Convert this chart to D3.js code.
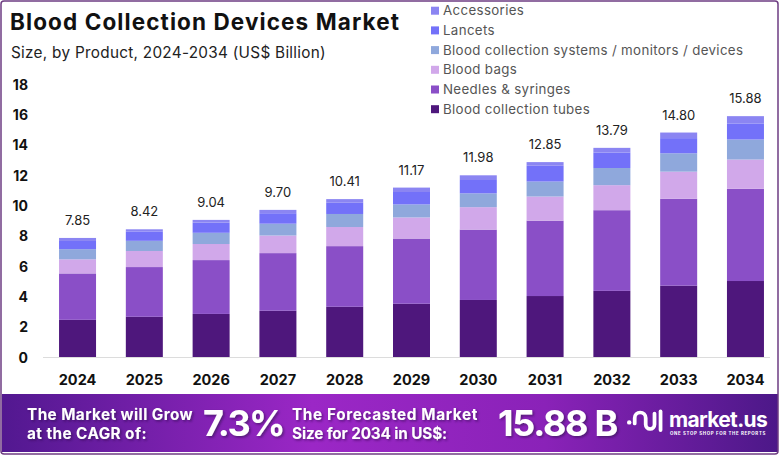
<!DOCTYPE html>
<html>
<head>
   <meta charset="UTF-8">
   <title>Blood Collection Devices Market</title>
   <style>
       body { margin: 0; overflow: hidden; background: white; }
       svg { display: block; background: white; }
       text { font-family: Inter, "Open Sans", sans-serif; }
       .tick text { font-weight: 700; fill: #111; }
   </style>
   <script src="https://cdnjs.cloudflare.com/ajax/libs/d3/7.8.5/d3.min.js"></script>
</head>
<body>
   <div id="chart"></div>
   <script>
       const years = ["2024", "2025", "2026", "2027", "2028", "2029", "2030", "2031", "2032", "2033", "2034"];
       const totals = [7.85, 8.42, 9.04, 9.70, 10.41, 11.17, 11.98, 12.85, 13.79, 14.80, 15.88];

       // segments, bottom to top
       const tubes       = [2.45, 2.65, 2.84, 3.05, 3.31, 3.51, 3.76, 4.02, 4.36, 4.70, 5.01];
       const needles     = [3.06, 3.28, 3.55, 3.80, 4.00, 4.30, 4.64, 4.97, 5.32, 5.73, 6.08];
       const bags        = [0.93, 1.06, 1.06, 1.16, 1.26, 1.39, 1.48, 1.59, 1.65, 1.79, 1.93];
       const systems     = [0.67, 0.67, 0.74, 0.78, 0.86, 0.86, 0.91, 0.99, 1.13, 1.21, 1.32];
       const lancets     = [0.54, 0.62, 0.67, 0.69, 0.74, 0.82, 0.88, 1.04, 1.02, 1.00, 1.06];
       const accessories = [0.20, 0.14, 0.18, 0.22, 0.24, 0.29, 0.31, 0.24, 0.31, 0.37, 0.48];

       const seriesNames = ["Blood collection tubes", "Needles & syringes", "Blood bags",
                            "Blood collection systems / monitors / devices", "Lancets", "Accessories"];
       const seriesValues = [tubes, needles, bags, systems, lancets, accessories];
       const colors = ["#4e177c", "#8a4fc7", "#d1a8ea", "#8fa8dc", "#7371f9", "#8b85f2"];
       const yTicks = [0, 2, 4, 6, 8, 10, 12, 14, 16, 18];

       const width = 782;
       const height = 456;

       // stretch a text to a given width with letter spacing
       function fit(sel, w) {
           const node = sel.node();
           const n = node.textContent.length;
           const cur = node.getComputedTextLength();
           sel.style("letter-spacing", ((w - cur) / n) + "px");
           return sel;
       }

       const svg = d3.select("#chart")
           .append("svg")
           .attr("width", width)
           .attr("height", height);

       const defs = svg.append("defs");
       const grad = defs.append("linearGradient").attr("id", "banner");
       grad.append("stop").attr("offset", "0%").attr("stop-color", "#521890");
       grad.append("stop").attr("offset", "40%").attr("stop-color", "#9b27c6");
       grad.append("stop").attr("offset", "70%").attr("stop-color", "#8a22b8");
       grad.append("stop").attr("offset", "100%").attr("stop-color", "#4c1888");
       const shadow = defs.append("filter").attr("id", "shadow")
           .attr("x", "-10%").attr("y", "-10%").attr("width", "130%").attr("height", "140%");
       shadow.append("feDropShadow").attr("dx", 1.5).attr("dy", 1.5)
           .attr("stdDeviation", 1).attr("flood-color", "#2a0a4a").attr("flood-opacity", 0.6);

       // title
       fit(svg.append("text")
           .attr("x", 10).attr("y", 30)
           .style("font-size", "22.5px").style("font-weight", 700).style("fill", "#111")
           .text("Blood Collection Devices Market"), 390);
       fit(svg.append("text")
           .attr("x", 11).attr("y", 58)
           .style("font-size", "15.3px").style("fill", "#222")
           .text("Size, by Product, 2024-2034 (US$ Billion)"), 315);

       const x = d3.scaleBand()
           .domain(years)
           .range([39, 784])
           .paddingInner(0.446)
           .paddingOuter(0.3);

       const y = d3.scaleLinear()
           .domain([0, 18])
           .range([357, 84]);

       // stacked data
       const rows = years.map((yr, i) => {
           const r = {year: yr};
           seriesNames.forEach((s, k) => { r[s] = seriesValues[k][i]; });
           return r;
       });
       const stacked = d3.stack().keys(seriesNames)(rows);

       svg.append("line")
           .attr("x1", 43).attr("x2", 770)
           .attr("y1", y(0) + 0.5).attr("y2", y(0) + 0.5)
           .style("stroke", "#dcdcdc").style("stroke-width", 1.2);

       svg.append("g")
           .selectAll("g")
           .data(stacked)
           .enter().append("g")
           .style("fill", (d, i) => colors[i])
           .selectAll("rect")
           .data(d => d)
           .enter().append("rect")
           .attr("x", d => x(d.data.year))
           .attr("width", x.bandwidth())
           .attr("y", d => y(d[1]))
           .attr("height", d => y(d[0]) - y(d[1]));

       // totals
       svg.append("g")
           .selectAll("text")
           .data(totals)
           .enter().append("text")
           .attr("x", (d, i) => x(years[i]) + x.bandwidth() / 2)
           .attr("y", d => y(d) - 13)
           .attr("text-anchor", "middle")
           .style("font-size", "13px").style("fill", "#222")
           .text(d => d.toFixed(2));

       // y axis
       const yAxis = svg.append("g")
           .attr("transform", "translate(28,0)")
           .call(d3.axisLeft(y).tickValues(yTicks).tickSize(0).tickPadding(0));
       yAxis.select(".domain").remove();
       yAxis.selectAll("text").style("font-size", "14px").attr("dy", "0.36em");

       // x axis
       const xAxis = svg.append("g")
           .attr("transform", "translate(0,372)")
           .call(d3.axisBottom(x).tickSize(0).tickPadding(0));
       xAxis.select(".domain").remove();
       xAxis.selectAll("text").style("font-size", "14.5px").attr("dy", "0.9em");

       // legend
       const legendOrder = [5, 4, 3, 2, 1, 0];
       const legend = svg.append("g")
           .selectAll("g")
           .data(legendOrder)
           .enter().append("g")
           .attr("transform", (d, i) => `translate(431,${10.7 + i * 19.7})`);
       legend.append("rect")
           .attr("x", 0).attr("y", -4).attr("width", 8).attr("height", 8)
           .style("fill", d => colors[d]);
       legend.append("text")
           .attr("x", 12).attr("dy", "0.35em")
           .style("font-size", "13.3px").style("fill", "#555")
           .style("letter-spacing", "0.35px")
           .text(d => seriesNames[d]);

       // banner
       svg.append("rect")
           .attr("x", 2).attr("y", 394).attr("width", 776).attr("height", 58)
           .style("fill", "url(#banner)");

       const bt = svg.append("g").style("fill", "white").style("font-weight", 700);
       fit(bt.append("text").attr("x", 27).attr("y", 420).style("font-size", "15.3px")
           .attr("filter", "url(#shadow)").text("The Market will Grow"), 166);
       fit(bt.append("text").attr("x", 27).attr("y", 439).style("font-size", "15.3px")
           .attr("filter", "url(#shadow)").text("at the CAGR of:"), 120);
       fit(bt.append("text").attr("x", 203).attr("y", 436).style("font-size", "36px")
           .attr("filter", "url(#shadow)").text("7.3%"), 81);
       fit(bt.append("text").attr("x", 292).attr("y", 420).style("font-size", "15.3px")
           .attr("filter", "url(#shadow)").text("The Forecasted Market"), 186);
       fit(bt.append("text").attr("x", 292).attr("y", 439).style("font-size", "15.3px")
           .attr("filter", "url(#shadow)").text("Size for 2034 in US$:"), 155);
       fit(bt.append("text").attr("x", 498).attr("y", 436).style("font-size", "36px")
           .attr("filter", "url(#shadow)").text("15.88 B"), 119);

       // logo
       const logo = svg.append("g").attr("transform", "translate(627,407) scale(1.1)")
           .style("fill", "none").style("stroke", "white").style("stroke-width", 3.4)
           .style("stroke-linecap", "round");
       logo.append("circle").attr("cx", 2).attr("cy", 14).attr("r", 2)
           .style("fill", "white").style("stroke", "none");
       logo.append("path").attr("d", "M7,15 L7,10 A5,5 0 0 1 17,10 L17,16 A4,4 0 0 0 25,16 L25,6");
       logo.append("path").attr("d", "M30.5,4 L30.5,21");
       fit(svg.append("text").attr("x", 669).attr("y", 427)
           .style("font-size", "21px").style("font-weight", 700).style("fill", "white")
           .text("market.us"), 98);
       fit(svg.append("text").attr("x", 670).attr("y", 434.5)
           .style("font-size", "4.4px").style("font-weight", 700).style("fill", "white")
           .text("ONE STOP SHOP FOR THE REPORTS"), 96);

       // frame
       svg.append("rect")
           .attr("x", 1).attr("y", 1).attr("width", 777).attr("height", 453).attr("rx", 3)
           .style("fill", "none").style("stroke", "#6e3d82").style("stroke-width", 1.5);
   </script>
</body>
</html>
